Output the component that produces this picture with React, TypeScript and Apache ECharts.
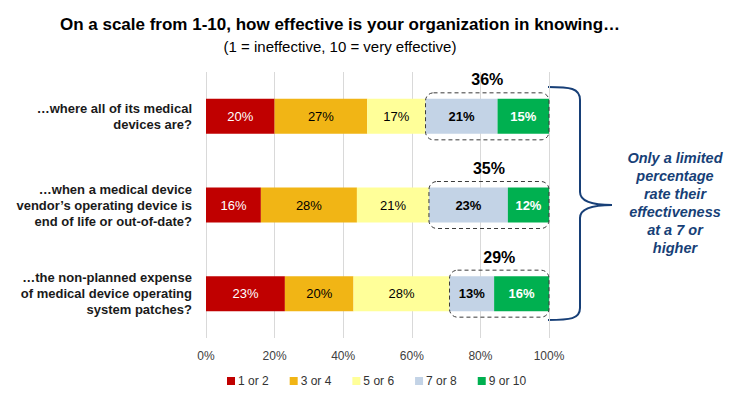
import React, { useEffect, useRef } from "react";
import * as echarts from "echarts";

const categories = [
  "…where all of its medical\ndevices are?",
  "…when a medical device\nvendor’s operating device is\nend of life or out-of-date?",
  "…the non-planned expense\nof medical device operating\nsystem patches?",
];
const seriesNames = ["1 or 2", "3 or 4", "5 or 6", "7 or 8", "9 or 10"];
const v12 = [20, 16, 23];
const v34 = [27, 28, 20];
const v56 = [17, 21, 28];
const v78 = [21, 23, 13];
const v910 = [15, 12, 16];
const xTicks = [0, 20, 40, 60, 80, 100];

const colors = ["#C00000", "#F1B515", "#FFFF99", "#C3D3E6", "#00B050"];
const labelColors = ["#FFFFFF", "#000000", "#000000", "#000000", "#FFFFFF"];
const labelWeights = ["normal", "normal", "normal", "bold", "bold"];

const FONT = "'Liberation Sans', Arial, sans-serif";
const NAVY = "#173F77";

const braceD =
  "M548,87 C570,87 580,88 580,100 L580,192 C580,202 594,205 612,205 C594,205 580,208 580,218 L580,308 C580,319 570,320 548,320";
echarts.graphic.registerShape("brace", echarts.graphic.extendPath(braceD, {}));

export default function App() {
  const ref = useRef<HTMLDivElement>(null);
  useEffect(() => {
    if (!ref.current) return;
    const chart = echarts.init(ref.current, null, { renderer: "svg" });
    const allSeries = [v12, v34, v56, v78, v910];
    const boxData = categories.map((_, i) => [
      v12[i] + v34[i] + v56[i],
      v78[i] + v910[i],
      i,
    ]);
    const barSeries = allSeries.map((vals, k) => ({
      name: seriesNames[k],
      type: "bar",
      stack: "total",
      barWidth: 35,
      data: vals,
      itemStyle: { color: colors[k] },
      label: {
        show: true,
        position: "inside",
        formatter: "{c}%",
        color: labelColors[k],
        fontWeight: labelWeights[k],
        fontSize: 13,
        fontFamily: FONT,
      },
    }));
    chart.setOption({
      animation: false,
      grid: { left: 206, right: 204, top: 72, bottom: 67 },
      xAxis: {
        type: "value",
        min: 0,
        max: 100,
        interval: 20,
        axisLine: { show: false },
        axisTick: { show: false },
        splitLine: { show: true, lineStyle: { color: "#D9D9D9", width: 1 } },
        axisLabel: {
          formatter: (v: number) => (xTicks.includes(v) ? v + "%" : ""),
          color: "#404040",
          fontSize: 12,
          fontFamily: FONT,
          margin: 12,
        },
      },
      yAxis: {
        type: "category",
        inverse: true,
        data: categories,
        axisLine: { show: false },
        axisTick: { show: false },
        axisLabel: {
          color: "#1a1a1a",
          fontSize: 13,
          fontWeight: "bold",
          fontFamily: FONT,
          lineHeight: 16,
          align: "right",
          margin: 14,
        },
      },
      legend: {
        data: seriesNames,
        left: 222,
        top: 370,
        icon: "rect",
        itemWidth: 8,
        itemHeight: 8,
        itemGap: 21,
        textStyle: { color: "#333333", fontSize: 12, fontFamily: FONT, padding: [0, 0, 0, -2] },
      },
      series: [
        ...barSeries,
        {
          type: "custom",
          name: "box",
          data: boxData,
          encode: { x: 0, y: 2 },
          z: 5,
          silent: true,
          renderItem: (params: any, api: any) => {
            const idx = api.value(2);
            const s = api.coord([api.value(0), idx]);
            const e = api.coord([100, idx]);
            const top = s[1] - 23.5;
            return {
              type: "group",
              children: [
                {
                  type: "rect",
                  shape: { x: s[0], y: top, width: e[0] - s[0], height: 47, r: 8 },
                  style: { fill: "none", stroke: "#3a3a3a", lineWidth: 1, lineDash: [4, 3] },
                },
                {
                  type: "text",
                  x: (s[0] + e[0]) / 2,
                  y: top - 13,
                  style: {
                    text: api.value(1) + "%",
                    align: "center",
                    verticalAlign: "middle",
                    font: `bold 16px ${FONT}`,
                    fill: "#000000",
                  },
                },
              ],
            };
          },
        },
      ],
      graphic: [
        {
          type: "text",
          x: 340,
          y: 24,
          style: {
            text: "On a scale from 1-10, how effective is your organization in knowing…",
            align: "center",
            verticalAlign: "middle",
            font: `bold 17px ${FONT}`,
            fill: "#000000",
          },
        },
        {
          type: "text",
          x: 340,
          y: 46,
          style: {
            text: "(1 = ineffective, 10 = very effective)",
            align: "center",
            verticalAlign: "middle",
            font: `15px ${FONT}`,
            fill: "#000000",
          },
        },
        {
          type: "brace",
          x: 0,
          y: 0,
          style: { fill: "none", stroke: NAVY, lineWidth: 2 },
        },
        {
          type: "text",
          x: 675,
          y: 203,
          style: {
            text: "Only a limited\npercentage\nrate their\neffectiveness\nat a 7 or\nhigher",
            align: "center",
            verticalAlign: "middle",
            font: `italic bold 14.5px ${FONT}`,
            lineHeight: 18,
            fill: NAVY,
          },
        },
      ],
    });
    return () => chart.dispose();
  }, []);
  return (
    <div
      ref={ref}
      style={{ position: "absolute", left: 0, top: 0, width: 753, height: 405, background: "#fff" }}
    />
  );
}
